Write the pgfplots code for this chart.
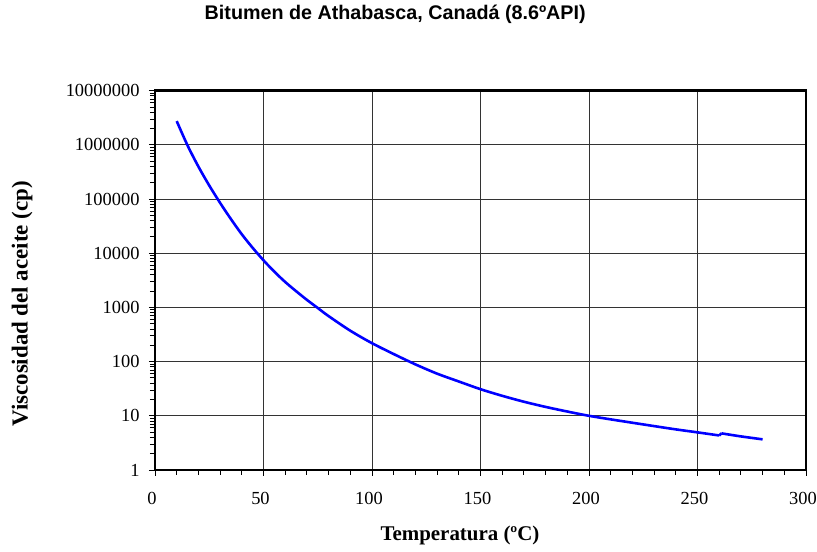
\documentclass[border=0pt]{standalone}
\usepackage{fontspec}
\setmainfont{Liberation Serif}
\newfontfamily\arialfont{Liberation Sans}
\usepackage{pgfplots}
\pgfplotsset{compat=1.18}

\begin{document}
\begin{tikzpicture}
\useasboundingbox (-155bp,-82bp) rectangle (662bp,470bp);
\begin{axis}[
  at={(0,0)}, anchor=south west,
  scale only axis, width=651bp, height=379.3bp,
  xmin=0, xmax=300, ymode=log, ymin=1, ymax=1e7,
  xtick={0,50,100,150,200,250,300}, minor x tick num=4,
  ytick={1,10,100,1000,10000,100000,1000000,10000000},
  yticklabels={1,10,100,1000,10000,100000,1000000,10000000},
  minor ytick={2,3,4,5,6,7,8,9,20,30,40,50,60,70,80,90,
    200,300,400,500,600,700,800,900,2000,3000,4000,5000,6000,7000,8000,9000,
    20000,30000,40000,50000,60000,70000,80000,90000,
    200000,300000,400000,500000,600000,700000,800000,900000,
    2000000,3000000,4000000,5000000,6000000,7000000,8000000,9000000},
  tick align=outside, xtick pos=bottom, ytick pos=left,
  major tick length=6bp, minor tick length=5bp,
  tick style={black, line width=0.9bp},
  grid=major, major grid style={black!80, line width=0.9bp},
  axis line style={line width=2.4bp},
  /pgf/number format/assume math mode=true,
  ticklabel style={font=\fontsize{18.5}{18.5}\selectfont},
  yticklabel style={xshift=-6bp},
  xticklabel style={yshift=-13bp, xshift=-3bp},
  title={\arialfont\bfseries\fontsize{19.8}{20}\selectfont Bitumen de Athabasca, Canadá (8.6ºAPI)},
  title style={at={(axis description cs:0.369,1.186)}, anchor=center},
  xlabel={\bfseries\fontsize{21}{22}\selectfont Temperatura (ºC)},
  xlabel style={at={(axis description cs:0.4685,-0.172)}, anchor=center},
  ylabel={\bfseries\fontsize{23}{24}\selectfont Viscosidad del aceite (cp)},
  ylabel style={at={(axis description cs:-0.204,0.438)}, anchor=center, rotate=0},
]
\addplot[blue, line width=2.6bp, smooth] coordinates {
  (10,2750000) (15,977000) (20,398000) (25,178000) (30,85100) (35,42700)
  (40,22400) (45,12600) (50,7410) (55,4570) (60,2950) (65,2000) (70,1380)
  (75,977) (80,692) (90,372) (100,219) (110,138) (120,89) (130,60) (140,43)
  (150,31) (160,23.4) (170,18.2) (180,14.6) (190,12.0) (200,10.0) (210,8.6)
  (220,7.45) (230,6.46) (240,5.62) (250,4.95) (260,4.34)
};
\addplot[blue, line width=2.6bp] coordinates {(260,4.34) (261,4.75)};
\addplot[blue, line width=2.6bp, smooth] coordinates {
  (261,4.75) (270,4.17) (280,3.68)
};
\end{axis}
\end{tikzpicture}
\end{document}
